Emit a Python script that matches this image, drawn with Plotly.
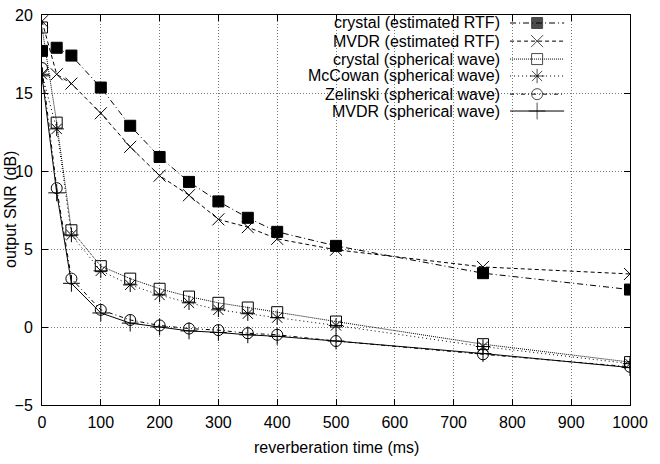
import plotly.graph_objects as go

# ---- data ----
rt_ms = [0, 25, 50, 100, 150, 200, 250, 300, 350, 400, 500, 750, 1000]
crystal_est = [17.7, 17.9, 17.4, 15.35, 12.9, 10.9, 9.3, 8.05, 7.0, 6.1, 5.2, 3.45, 2.4]
mvdr_est = [19.6, 16.2, 15.6, 13.7, 11.55, 9.7, 8.45, 6.9, 6.4, 5.65, 4.95, 3.85, 3.4]
crystal_sph = [19.2, 13.1, 6.2, 3.9, 3.1, 2.45, 1.95, 1.55, 1.25, 0.95, 0.35, -1.1, -2.25]
mccowan_sph = [16.2, 12.7, 5.9, 3.6, 2.7, 2.05, 1.55, 1.1, 0.85, 0.6, 0.1, -1.25, -2.35]
zelinski_sph = [16.6, 8.9, 3.1, 1.1, 0.45, 0.1, -0.1, -0.2, -0.4, -0.5, -0.9, -1.75, -2.55]
mvdr_sph = [16.1, 8.6, 2.8, 0.9, 0.25, 0.0, -0.25, -0.35, -0.5, -0.6, -0.9, -1.7, -2.6]

x_ticks = list(range(0, 1001, 100))
y_ticks = [-5, 0, 5, 10, 15, 20]

names = ["crystal (estimated RTF)", "MVDR (estimated RTF)", "crystal (spherical wave)",
         "McCowan (spherical wave)", "Zelinski (spherical wave)", "MVDR (spherical wave)"]
series = [crystal_est, mvdr_est, crystal_sph, mccowan_sph, zelinski_sph, mvdr_sph]
dashes = ["6px,3px,1px,3px", "4px,3px", "1px,1px", "1px,3px", "4px,3px,1px,3px", "solid"]
symbols = ["square", "x-thin-open", "square-open", "asterisk-open", "circle-open", "cross-thin-open"]
sizes = [11, 12, 11, 12, 11, 12]

FONT = "Liberation Sans, Arial, Helvetica, sans-serif"
fig = go.Figure()

for name, ys, d, s, sz in zip(names, series, dashes, symbols, sizes):
    fig.add_trace(go.Scatter(
        x=rt_ms, y=ys, mode="lines+markers", name=name, showlegend=False,
        line=dict(color="black", width=1, dash=d),
        marker=dict(symbol=s, size=sz, color="black", line=dict(color="black", width=1)),
    ))

# ---- manual gnuplot-style key (text left, sample right) ----
row_y = [0.9795, 0.933, 0.887, 0.8436, 0.797, 0.7538]
for name, y, d, s, sz in zip(names, row_y, dashes, symbols, sizes):
    fig.add_trace(go.Scatter(
        x=[0.796, 0.842, 0.888], y=[y, y, y], xaxis="x2", yaxis="y2",
        mode="lines+markers", showlegend=False, hoverinfo="skip",
        line=dict(color="black", width=1, dash=d),
        marker=dict(symbol=s, size=[0, sz, 0], color="black", line=dict(color="black", width=1)),
    ))
    fig.add_annotation(x=0.782, y=y, xref="paper", yref="paper", text=name,
                       showarrow=False, xanchor="right", yanchor="middle",
                       font=dict(family=FONT, size=16, color="black"))

# white key box hiding the grid
fig.add_shape(type="rect", xref="paper", yref="paper", x0=0.388, x1=0.983, y0=0.718, y1=1.0,
              fillcolor="white", line=dict(width=0), layer="between")

# axis titles
fig.add_annotation(x=0.5, y=0, xref="paper", yref="paper", yshift=-42,
                   text="reverberation time (ms)", showarrow=False,
                   xanchor="center", yanchor="middle",
                   font=dict(family=FONT, size=16, color="black"))
fig.add_annotation(x=0, y=0.5, xref="paper", yref="paper", xshift=-32,
                   text="output SNR (dB)", showarrow=False, textangle=-90,
                   xanchor="center", yanchor="middle",
                   font=dict(family=FONT, size=16, color="black"))

axis_common = dict(
    showline=True, linecolor="black", linewidth=1, mirror="allticks",
    ticks="inside", ticklen=6, tickcolor="black", tickwidth=1,
    showgrid=True, gridcolor="#777777", griddash="1px,2px", gridwidth=1,
    zeroline=False, tickfont=dict(family=FONT, size=16, color="black"),
    automargin=False,
)

fig.update_layout(
    width=660, height=464,
    margin=dict(l=42, r=30, t=15, b=59),
    paper_bgcolor="white", plot_bgcolor="white",
    font=dict(family=FONT, size=16, color="black"),
    xaxis=dict(range=[0, 1000], tickvals=x_ticks, ticklabelstandoff=3, **axis_common),
    yaxis=dict(range=[-5, 20], tickvals=y_ticks, ticklabelstandoff=5, **axis_common),
    xaxis2=dict(range=[0, 1], overlaying="x", visible=False, fixedrange=True),
    yaxis2=dict(range=[0, 1], overlaying="y", visible=False, fixedrange=True),
)

fig.write_html("out.html", config={"displayModeBar": False},
               post_script="document.body.style.margin='0';document.body.style.overflow='hidden';")
